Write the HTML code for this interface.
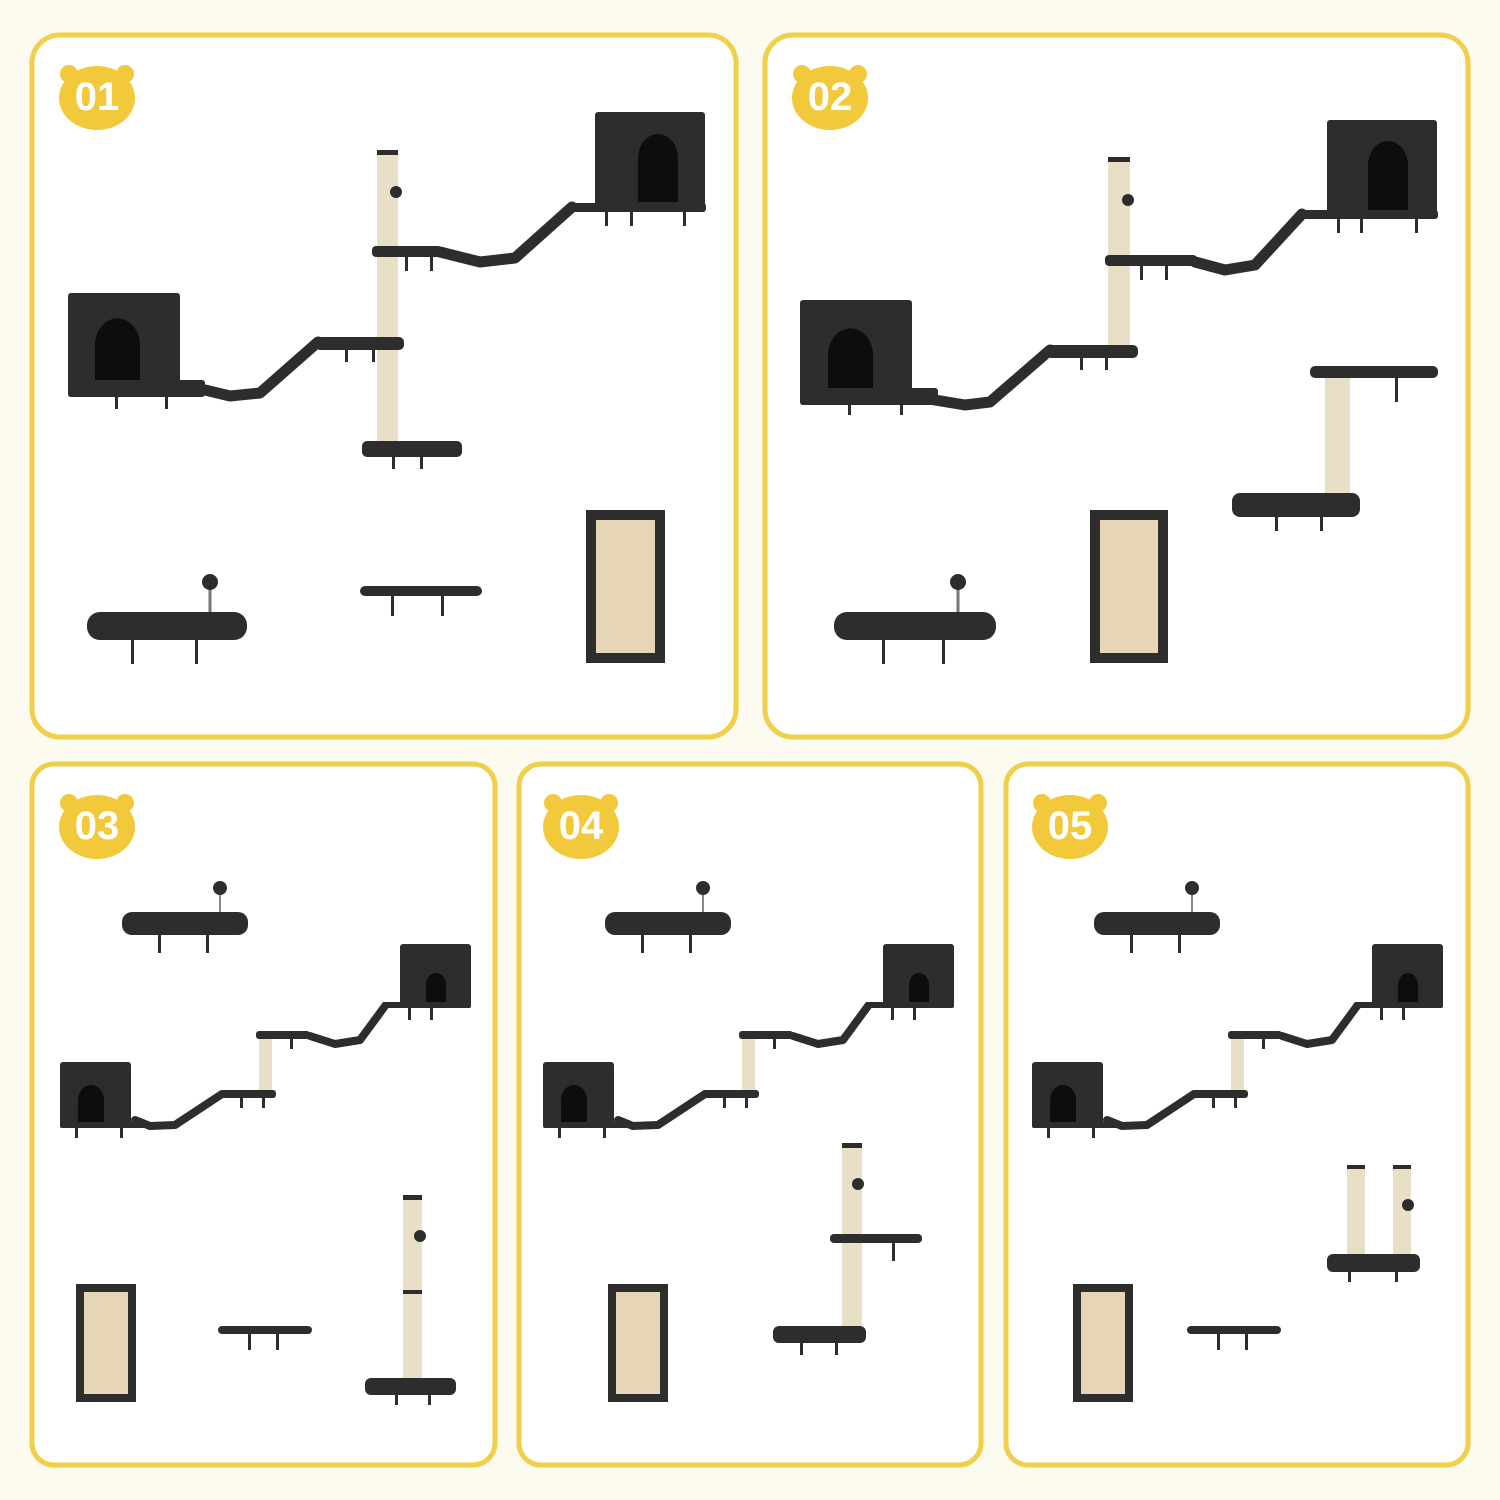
<!DOCTYPE html>
<html><head><meta charset="utf-8"><style>
html,body{margin:0;padding:0;background:#fdfaf0;}
svg{display:block}
</style></head><body>
<svg width="1500" height="1500" viewBox="0 0 1500 1500" xmlns="http://www.w3.org/2000/svg">
<defs>
<g id="badge">
<circle cx="-28" cy="-22" r="9" fill="#f2c93a"/><circle cx="28" cy="-22" r="9" fill="#f2c93a"/>
<ellipse cx="0" cy="2" rx="38" ry="32" fill="#f2c93a"/>
</g>
<g id="s3" fill="#2d2d2d" stroke="none">
<!-- hammock -->
<line x1="220" y1="888" x2="220" y2="913" stroke="#888" stroke-width="2"/>
<circle cx="220" cy="888" r="7"/>
<rect x="122" y="912" width="126" height="23" rx="10"/>
<rect x="158" y="935" width="3" height="18"/><rect x="206" y="935" width="3" height="18"/>
<!-- right condo -->
<rect x="400" y="944" width="71" height="62" rx="3"/>
<path d="M426 1006 V985 a10 12 0 0 1 20 0 V1006Z" fill="#0d0d0d"/>
<rect x="382" y="1002" width="89" height="6" rx="2"/>
<rect x="408" y="1008" width="3" height="12"/><rect x="430" y="1008" width="3" height="12"/>
<!-- ramp upper -->
<path d="M310 1036 L335 1044 L360 1040 L385 1006" stroke="#2d2d2d" stroke-width="8" fill="none" stroke-linecap="round" stroke-linejoin="round"/>
<rect x="256" y="1031" width="54" height="8" rx="3"/>
<rect x="290" y="1039" width="3" height="10"/>
<!-- post -->
<rect x="259" y="1039" width="13" height="52" fill="#e9dfc6"/>
<!-- lower platform -->
<rect x="220" y="1090" width="56" height="8" rx="3"/>
<rect x="240" y="1098" width="3" height="10"/><rect x="262" y="1098" width="3" height="10"/>
<path d="M135 1120 L150 1126 L175 1125 L222 1094" stroke="#2d2d2d" stroke-width="8" fill="none" stroke-linecap="round" stroke-linejoin="round"/>
<!-- left condo -->
<rect x="60" y="1062" width="71" height="65" rx="3"/>
<path d="M78 1127 V1100 a13 15 0 0 1 26 0 V1127Z" fill="#0d0d0d"/>
<rect x="60" y="1122" width="90" height="6" rx="2"/>
<rect x="75" y="1128" width="3" height="10"/><rect x="120" y="1128" width="3" height="10"/>
</g>
<g id="pad3">
<rect x="76" y="1284" width="60" height="118" fill="#2d2d2d"/>
<rect x="84" y="1292" width="44" height="102" fill="#e6d6b5"/>
</g>
<g id="shelf3" fill="#2d2d2d">
<rect x="218" y="1326" width="94" height="8" rx="4"/>
<rect x="248" y="1334" width="3" height="16"/><rect x="276" y="1334" width="3" height="16"/>
</g>
</defs>

<!-- panels -->
<g fill="#fff" stroke="#f0cf4a" stroke-width="5">
<rect x="32" y="35" width="704" height="702" rx="28"/>
<rect x="765" y="35" width="703" height="702" rx="28"/>
<rect x="32" y="764" width="463" height="701" rx="22"/>
<rect x="519" y="764" width="462" height="701" rx="22"/>
<rect x="1006" y="764" width="462" height="701" rx="22"/>
</g>

<!-- badges -->
<g font-family="Liberation Sans, sans-serif" font-weight="bold" font-size="40" fill="#fff" text-anchor="middle">
<use href="#badge" x="97" y="96"/><text x="97" y="110">01</text>
<use href="#badge" x="830" y="96"/><text x="830" y="110">02</text>
<use href="#badge" x="97" y="825"/><text x="97" y="839">03</text>
<use href="#badge" x="581" y="825"/><text x="581" y="839">04</text>
<use href="#badge" x="1070" y="825"/><text x="1070" y="839">05</text>
</g>

<!-- Panel 1 -->
<g fill="#2d2d2d">
<rect x="595" y="112" width="110" height="96" rx="3"/>
<path d="M638 202 V158 a20 24 0 0 1 40 0 V202Z" fill="#0d0d0d"/>
<rect x="570" y="203" width="136" height="9" rx="3"/>
<rect x="605" y="212" width="3" height="14"/><rect x="630" y="212" width="3" height="14"/><rect x="683" y="212" width="3" height="14"/>
<path d="M440 252 L480 262 L515 258 L572 207" stroke="#2d2d2d" stroke-width="11" fill="none" stroke-linecap="round" stroke-linejoin="round"/>
<rect x="377" y="150" width="21" height="300" fill="#e9dfc6"/>
<rect x="377" y="150" width="21" height="5"/>
<circle cx="396" cy="192" r="6"/>
<rect x="372" y="246" width="70" height="11" rx="4"/>
<rect x="405" y="257" width="3" height="14"/><rect x="430" y="257" width="3" height="14"/>
<rect x="315" y="337" width="89" height="13" rx="5"/>
<rect x="345" y="350" width="3" height="12"/><rect x="372" y="350" width="3" height="12"/>
<path d="M205 390 L230 396 L260 393 L318 342" stroke="#2d2d2d" stroke-width="11" fill="none" stroke-linecap="round" stroke-linejoin="round"/>
<rect x="68" y="293" width="112" height="104" rx="3"/>
<path d="M95 393 V345 a22 26 0 0 1 45 0 V393Z" fill="#0d0d0d"/>
<rect x="68" y="380" width="137" height="17" rx="3"/>
<rect x="115" y="397" width="3" height="12"/><rect x="165" y="397" width="3" height="12"/>
<rect x="362" y="441" width="100" height="16" rx="5"/>
<rect x="392" y="457" width="3" height="12"/><rect x="420" y="457" width="3" height="12"/>
<!-- bottom row -->
<line x1="210" y1="584" x2="210" y2="614" stroke="#777" stroke-width="3"/>
<circle cx="210" cy="582" r="8"/>
<rect x="87" y="612" width="160" height="28" rx="13"/>
<rect x="131" y="640" width="3" height="24"/><rect x="195" y="640" width="3" height="24"/>
<rect x="360" y="586" width="122" height="10" rx="5"/>
<rect x="391" y="596" width="3" height="20"/><rect x="441" y="596" width="3" height="20"/>
<rect x="586" y="510" width="79" height="153"/>
<rect x="596" y="520" width="59" height="133" fill="#e6d6b5"/>
</g>

<!-- Panel 2 -->
<g fill="#2d2d2d">
<rect x="1327" y="120" width="110" height="96" rx="3"/>
<path d="M1368 210 V165 a20 24 0 0 1 40 0 V210Z" fill="#0d0d0d"/>
<rect x="1300" y="210" width="138" height="9" rx="3"/>
<rect x="1337" y="219" width="3" height="14"/><rect x="1360" y="219" width="3" height="14"/><rect x="1415" y="219" width="3" height="14"/>
<path d="M1195 262 L1225 270 L1255 265 L1302 214" stroke="#2d2d2d" stroke-width="11" fill="none" stroke-linecap="round" stroke-linejoin="round"/>
<rect x="1108" y="157" width="22" height="198" fill="#e9dfc6"/>
<rect x="1108" y="157" width="22" height="5"/>
<circle cx="1128" cy="200" r="6"/>
<rect x="1105" y="255" width="92" height="11" rx="4"/>
<rect x="1140" y="266" width="3" height="14"/><rect x="1165" y="266" width="3" height="14"/>
<rect x="1046" y="345" width="92" height="13" rx="5"/>
<rect x="1080" y="358" width="3" height="12"/><rect x="1105" y="358" width="3" height="12"/>
<path d="M935 400 L965 405 L990 402 L1050 350" stroke="#2d2d2d" stroke-width="11" fill="none" stroke-linecap="round" stroke-linejoin="round"/>
<rect x="800" y="300" width="112" height="105" rx="3"/>
<path d="M828 400 V355 a22 26 0 0 1 45 0 V400Z" fill="#0d0d0d"/>
<rect x="800" y="388" width="138" height="17" rx="3"/>
<rect x="848" y="405" width="3" height="10"/><rect x="900" y="405" width="3" height="10"/>
<rect x="1310" y="366" width="128" height="12" rx="5"/>
<rect x="1395" y="378" width="3" height="24"/>
<rect x="1325" y="378" width="25" height="117" fill="#e9dfc6"/>
<rect x="1232" y="493" width="128" height="24" rx="8"/>
<rect x="1275" y="517" width="3" height="14"/><rect x="1320" y="517" width="3" height="14"/>
<line x1="958" y1="584" x2="958" y2="614" stroke="#777" stroke-width="3"/>
<circle cx="958" cy="582" r="8"/>
<rect x="834" y="612" width="162" height="28" rx="13"/>
<rect x="882" y="640" width="3" height="24"/><rect x="942" y="640" width="3" height="24"/>
<rect x="1090" y="510" width="78" height="153"/>
<rect x="1100" y="520" width="58" height="133" fill="#e6d6b5"/>
</g>

<!-- Panel 3 -->
<use href="#s3"/>
<use href="#pad3"/>
<use href="#shelf3"/>
<g fill="#2d2d2d">
<rect x="403" y="1195" width="19" height="187" fill="#e9dfc6"/>
<rect x="403" y="1195" width="19" height="5"/>
<rect x="403" y="1290" width="19" height="4"/>
<circle cx="420" cy="1236" r="6"/>
<rect x="365" y="1378" width="91" height="17" rx="6"/>
<rect x="395" y="1395" width="3" height="10"/><rect x="428" y="1395" width="3" height="10"/>
</g>

<!-- Panel 4 -->
<use href="#s3" x="483"/>
<use href="#pad3" x="532"/>
<g fill="#2d2d2d">
<rect x="842" y="1143" width="20" height="187" fill="#e9dfc6"/>
<rect x="842" y="1143" width="20" height="5"/>
<circle cx="858" cy="1184" r="6"/>
<rect x="830" y="1234" width="92" height="9" rx="4"/>
<rect x="892" y="1243" width="3" height="18"/>
<rect x="773" y="1326" width="93" height="17" rx="6"/>
<rect x="800" y="1343" width="3" height="12"/><rect x="835" y="1343" width="3" height="12"/>
</g>

<!-- Panel 5 -->
<use href="#s3" x="972"/>
<use href="#pad3" x="997"/>
<use href="#shelf3" x="969"/>
<g fill="#2d2d2d">
<rect x="1347" y="1165" width="18" height="93" fill="#e9dfc6"/>
<rect x="1393" y="1165" width="18" height="93" fill="#e9dfc6"/>
<rect x="1347" y="1165" width="18" height="4"/><rect x="1393" y="1165" width="18" height="4"/>
<circle cx="1408" cy="1205" r="6"/>
<rect x="1327" y="1254" width="93" height="18" rx="6"/>
<rect x="1348" y="1272" width="3" height="10"/><rect x="1395" y="1272" width="3" height="10"/>
</g>
</svg>
</body></html>
